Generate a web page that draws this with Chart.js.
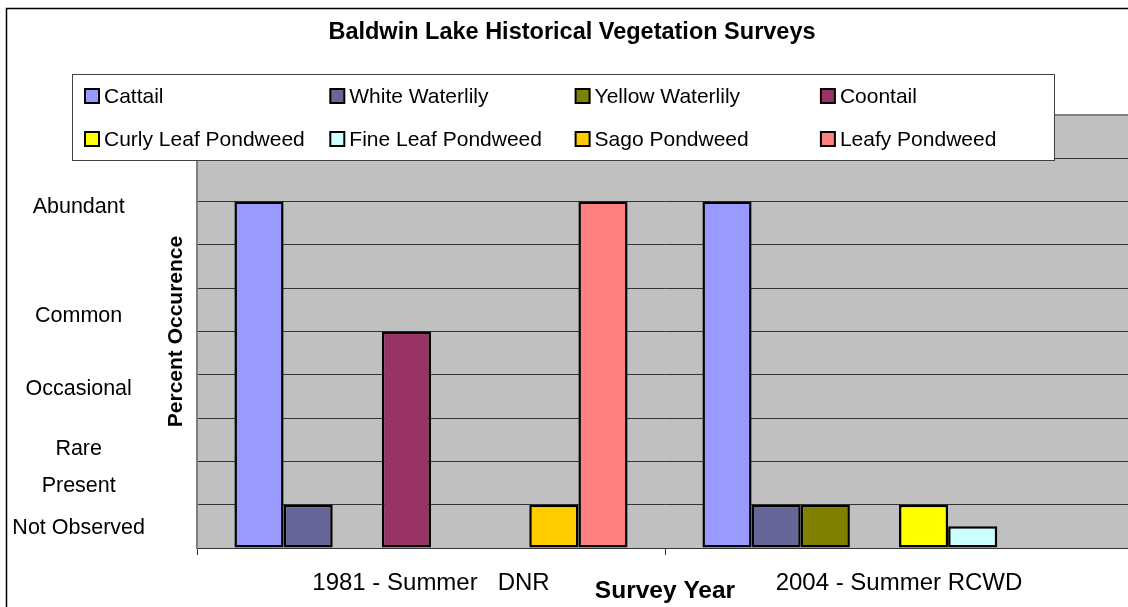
<!DOCTYPE html>
<html>
<head>
<meta charset="utf-8">
<title>Baldwin Lake Historical Vegetation Surveys</title>
<script src="https://cdn.jsdelivr.net/npm/chart.js@4/dist/chart.umd.min.js"></script>
<style>
    html, body { margin: 0; padding: 0; background: #fff; overflow: hidden; }
    #wrap { width: 1143px; height: 607px; }
</style>
</head>
<body>
<div id="wrap"><canvas id="vegChart" width="1143" height="607"></canvas></div>
<script>
// ===== Data =====
const surveys = ['1981 - Summer   DNR', '2004 - Summer RCWD'];

const species = ['Cattail', 'White Waterlily', 'Yellow Waterlily', 'Coontail',
    'Curly Leaf Pondweed', 'Fine Leaf Pondweed', 'Sago Pondweed', 'Leafy Pondweed'];

const cattail = [8, 8];
const whiteWaterlily = [1, 1];
const yellowWaterlily = [0, 1];
const coontail = [5, 0];
const curlyLeaf = [0, 1];
const fineLeaf = [0, 0.5];
const sago = [1, 0];
const leafy = [8, 0];

// occurrence words shown up the left side, and where they sit on the value scale
const levelNames = ['Abundant', 'Common', 'Occasional', 'Rare', 'Present', 'Not Observed'];
const levelValues = [7.87, 5.36, 3.67, 2.29, 1.43, 0.46];

const seriesValues = [cattail, whiteWaterlily, yellowWaterlily, coontail, curlyLeaf, fineLeaf, sago, leafy];
const seriesColors = ['#9999FF', '#666699', '#808000', '#993366', '#FFFF00', '#CCFFFF', '#FFCC00', '#FF8080'];

Chart.defaults.font.family = 'Arial, "Liberation Sans", sans-serif';
Chart.defaults.color = '#000';

// grey plot wall + outer frame
const frame = {
    id: 'frame',
    beforeDraw(chart) {
        const { ctx, chartArea: a } = chart;
        ctx.save();
        ctx.fillStyle = '#C0C0C0';
        ctx.fillRect(a.left, a.top, a.right - a.left, a.bottom - a.top);
        ctx.strokeStyle = '#000';
        ctx.lineWidth = 1.5;
        ctx.strokeRect(6.5, 8.5, 2000, 2000);
        ctx.restore();
    }
};

// legend box laid over the top of the plot, 4 columns x 2 rows
const boxLegend = {
    id: 'boxLegend',
    afterDraw(chart) {
        const ctx = chart.ctx;
        ctx.save();
        ctx.fillStyle = '#fff';
        ctx.fillRect(72.5, 74.5, 982, 86);
        ctx.strokeStyle = '#404040';
        ctx.lineWidth = 1;
        ctx.strokeRect(72.5, 74.5, 982, 86);
        ctx.font = '21px Arial, "Liberation Sans", sans-serif';
        ctx.textBaseline = 'middle';
        chart.data.datasets.forEach((ds, i) => {
            const x = 85 + (i % 4) * 245.3;
            const y = 96 + Math.floor(i / 4) * 43;
            ctx.fillStyle = ds.backgroundColor;
            ctx.fillRect(x, y - 7, 14, 14);
            ctx.strokeStyle = '#000';
            ctx.lineWidth = 2;
            ctx.strokeRect(x, y - 7, 14, 14);
            ctx.fillStyle = '#000';
            ctx.fillText(ds.label, x + 19, y + 1);
        });
        ctx.restore();
    }
};

new Chart(document.getElementById('vegChart'), {
    type: 'bar',
    data: {
        labels: surveys,
        datasets: species.map((name, i) => ({
            label: name,
            data: seriesValues[i],
            backgroundColor: seriesColors[i],
            borderColor: '#000',
            borderWidth: 2.5,
            borderSkipped: false,
            categoryPercentage: 0.84,
            barPercentage: 1.0,
            yAxisID: 'y'
        }))
    },
    options: {
        responsive: false,
        animation: false,
        layout: { padding: { left: 11, right: 10, top: 0, bottom: 0 } },
        plugins: {
            legend: { display: false },
            tooltip: { enabled: false },
            title: {
                display: true,
                text: 'Baldwin Lake Historical Vegetation Surveys',
                font: { size: 23.5, weight: 'bold' },
                color: '#000',
                padding: { top: 18, bottom: 68.8 }
            }
        },
        scales: {
            x: {
                grid: { display: true, drawOnChartArea: false, drawTicks: true, tickLength: 7, offset: true, color: '#333' },
                border: { color: '#333', width: 1 },
                ticks: { font: { size: 24 }, padding: 14, maxRotation: 0, autoSkip: false, color: '#000' },
                title: {
                    display: true, text: 'Survey Year',
                    font: { size: 24.5, weight: 'bold' }, color: '#000',
                    padding: { top: 0, bottom: 1.5 }
                },
                afterFit: s => { s.height = 59; }
            },
            y: {
                min: 0, max: 10,
                weight: 0,
                ticks: { display: false, stepSize: 1 },
                grid: {
                    drawTicks: false,
                    color: c => c.tick && c.tick.value === 10 ? '#808080' : '#333',
                    lineWidth: c => c.tick && c.tick.value === 10 ? 2 : 1
                },
                border: { color: '#808080', width: 2 },
                title: {
                    display: true, text: 'Percent Occurence',
                    font: { size: 21, weight: 'bold' }, color: '#000',
                    padding: { top: 0, bottom: 8 }
                },
                afterFit: s => { s.width = 33; }
            },
            yl: {
                position: 'left',
                weight: 10,
                min: 0, max: 10,
                grid: { display: false, drawTicks: false },
                border: { display: false },
                afterBuildTicks: s => { s.ticks = levelValues.map(v => ({ value: v })); },
                ticks: {
                    autoSkip: false, crossAlign: 'center', padding: 19,
                    font: { size: 21.5 }, color: '#000',
                    callback: (v, i) => levelNames[i]
                },
                afterFit: s => { s.width = 153; }
            }
        }
    },
    plugins: [frame, boxLegend]
});
</script>
</body>
</html>
